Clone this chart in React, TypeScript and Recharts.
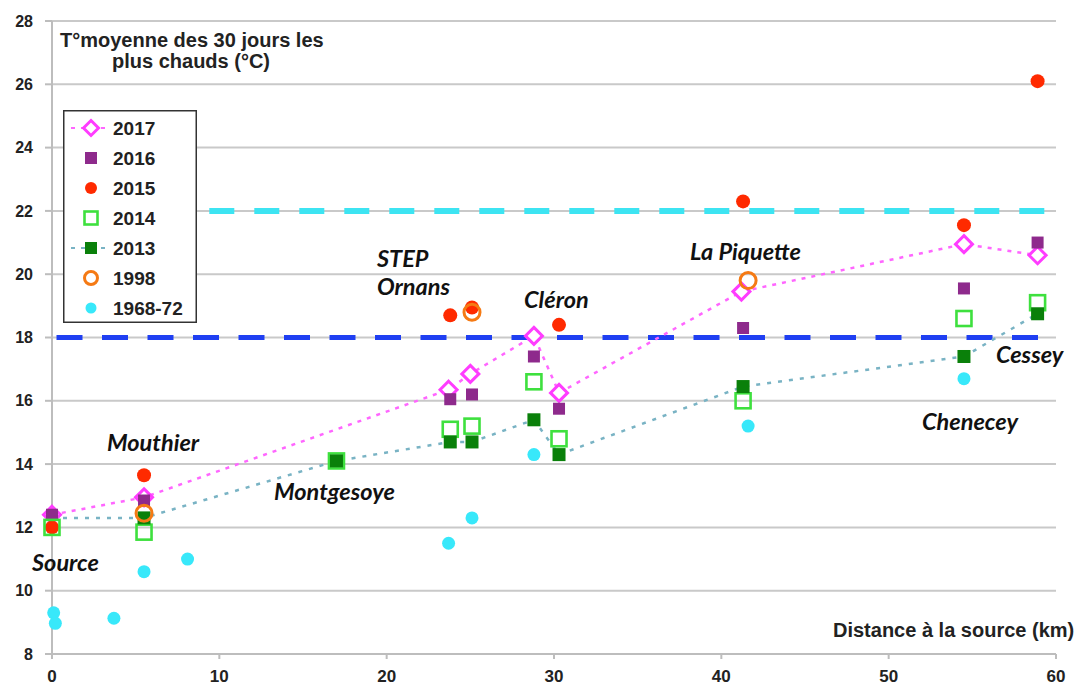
import {
  CartesianGrid,
  ReferenceLine,
  Scatter,
  ScatterChart,
  XAxis,
  YAxis,
} from 'recharts'

const xTicks = [0, 10, 20, 30, 40, 50, 60]
const yTicks = [8, 10, 12, 14, 16, 18, 20, 22, 24, 26, 28]

const km2017 = [0, 5.5, 23.7, 25.0, 28.8, 30.3, 41.2, 54.5, 58.9]
const t2017 = [12.4, 12.95, 16.35, 16.85, 18.05, 16.25, 19.45, 20.95, 20.6]

const km2016 = [0, 5.5, 23.8, 25.1, 28.8, 30.3, 41.3, 54.5, 58.9]
const t2016 = [12.4, 12.85, 16.05, 16.2, 17.4, 15.75, 18.3, 19.55, 21.0]

const km2015 = [0, 5.5, 23.8, 25.1, 30.3, 41.3, 54.5, 58.9]
const t2015 = [12.0, 13.65, 18.7, 18.95, 18.4, 22.3, 21.55, 26.1]

const km2014 = [0, 5.5, 17.0, 23.8, 25.1, 28.8, 30.3, 41.3, 54.5, 58.9]
const t2014 = [12.0, 11.85, 14.1, 15.1, 15.2, 16.6, 14.8, 16.0, 18.6, 19.1]

const km2013 = [5.5, 17.0, 23.8, 25.1, 28.8, 30.3, 41.3, 54.5, 58.9]
const t2013 = [12.3, 14.1, 14.7, 14.7, 15.4, 14.3, 16.45, 17.4, 18.75]
// the 2013 dotted line starts at the source
const start2013 = { x: 0, y: 12.3 }

const km1998 = [5.5, 25.1, 41.6]
const t1998 = [12.45, 18.8, 19.8]

const km1968 = [0.1, 0.2, 3.7, 5.5, 8.1, 23.7, 25.1, 28.8, 41.6, 54.5]
const t1968 = [9.3, 8.97, 9.13, 10.6, 11.0, 11.5, 12.3, 14.3, 15.2, 16.7]

const refLow = 18
const refHigh = 22
const refHighStart = 9.4

const zip = (xs: number[], ys: number[]) => xs.map((x, i) => ({ x, y: ys[i] }))

const data2017 = zip(km2017, t2017)
const data2016 = zip(km2016, t2016)
const data2015 = zip(km2015, t2015)
const data2014 = zip(km2014, t2014)
const data2013 = zip(km2013, t2013)
const line2013 = [start2013, ...data2013]
const data1998 = zip(km1998, t1998)
const data1968 = zip(km1968, t1968)

const C = {
  y2017: '#ff3cff',
  y2017line: '#ff66ff',
  y2016: '#8e2a8c',
  y2015: '#ff2a00',
  y2014: '#3ee03e',
  y2013: '#0a800a',
  y2013line: '#79b3c4',
  y1998: '#f57a14',
  y1968: '#38e8fa',
  blue: '#1f3ff2',
  cyan: '#3de4f2',
}

type P = { cx?: number; cy?: number }

const diamond = (color: string, r = 8.5) => (p: P) => {
  const { cx = 0, cy = 0 } = p
  return (
    <polygon
      points={`${cx},${cy - r} ${cx + r},${cy} ${cx},${cy + r} ${cx - r},${cy}`}
      fill="#fff"
      stroke={color}
      strokeWidth={3}
    />
  )
}
const square = (color: string, s = 12) => (p: P) => {
  const { cx = 0, cy = 0 } = p
  return <rect x={cx - s / 2} y={cy - s / 2} width={s} height={s} fill={color} />
}
const openSquare = (color: string, s = 14.5) => (p: P) => {
  const { cx = 0, cy = 0 } = p
  return <rect x={cx - s / 2} y={cy - s / 2} width={s} height={s} fill="#fff" fillOpacity={0} stroke={color} strokeWidth={2.6} />
}
const dot = (color: string, r = 7) => (p: P) => {
  const { cx = 0, cy = 0 } = p
  return <circle cx={cx} cy={cy} r={r} fill={color} />
}
const ring = (color: string, r = 7.5) => (p: P) => {
  const { cx = 0, cy = 0 } = p
  return <circle cx={cx} cy={cy} r={r} fill="none" stroke={color} strokeWidth={3} />
}
const nothing = () => <g />

const legendItems = [
  { label: '2017', shape: diamond(C.y2017, 7.5), line: C.y2017line },
  { label: '2016', shape: square(C.y2016, 12) },
  { label: '2015', shape: dot(C.y2015, 6) },
  { label: '2014', shape: openSquare(C.y2014, 13) },
  { label: '2013', shape: square(C.y2013, 12), line: C.y2013line },
  { label: '1998', shape: ring(C.y1998, 6.5) },
  { label: '1968-72', shape: dot(C.y1968, 5.5) },
]

function LegendBox({ x, y }: { x: number; y: number }) {
  return (
    <g transform={`translate(${x},${y})`}>
      <rect x={0.75} y={0.75} width={132.5} height={211.5} fill="#fff" stroke="#333" strokeWidth={1.5} />
      {legendItems.map((item, i) => {
        const cy = 18 + i * 30
        return (
          <g key={item.label}>
            {item.line && (
              <line x1={8} x2={48} y1={cy} y2={cy} stroke={item.line} strokeWidth={2} strokeDasharray="4 6" />
            )}
            {item.shape({ cx: 28, cy })}
            <text
              x={50}
              y={cy + 6.5}
              fontSize={19}
              fontWeight={700}
              fill="#222"
              fontFamily="'Liberation Sans', Arial, sans-serif"
            >
              {item.label}
            </text>
          </g>
        )
      })}
    </g>
  )
}

const placeLabels = [
  { text: 'Source', x: 32, y: 571 },
  { text: 'Mouthier', x: 107, y: 451 },
  { text: 'Montgesoye', x: 274, y: 500 },
  { text: 'STEP', x: 377, y: 267 },
  { text: 'Ornans', x: 377, y: 295 },
  { text: 'Cléron', x: 524, y: 308 },
  { text: 'La Piquette', x: 690, y: 260 },
  { text: 'Cessey', x: 996, y: 363 },
  { text: 'Chenecey', x: 922, y: 430 },
]

const tickStyle = {
  fontSize: 16,
  fontWeight: 700,
  fill: '#222',
  fontFamily: "'Liberation Sans', Arial, sans-serif",
}

export default function App() {
  return (
    <div
      style={{
        position: 'absolute',
        left: 0,
        top: 0,
        width: 1077,
        height: 688,
        background: '#fff',
        fontFamily: "'Liberation Sans', Arial, sans-serif",
      }}
    >
      <ScatterChart width={1077} height={688} margin={{ top: 21, right: 21, bottom: 0, left: 0 }}>
        <CartesianGrid vertical={false} stroke="#c9c9c9" strokeWidth={2} />
        <XAxis
          type="number"
          dataKey="x"
          domain={[0, 60]}
          ticks={xTicks}
          height={34}
          tickSize={5}
          tickMargin={11}
          stroke="#bdbdbd"
          strokeWidth={2}
          tick={{ ...tickStyle, fontSize: 17 }}
        />
        <YAxis
          type="number"
          dataKey="y"
          domain={[8, 28]}
          ticks={yTicks}
          width={52}
          tickSize={7}
          tickMargin={12}
          stroke="#bdbdbd"
          strokeWidth={2}
          tick={tickStyle}
        />
        <ReferenceLine
          y={refLow}
          stroke={C.blue}
          strokeWidth={5}
          strokeDasharray="26 19.5"
          strokeDashoffset={41}
        />
        <ReferenceLine
          segment={[
            { x: refHighStart, y: refHigh },
            { x: 60, y: refHigh },
          ]}
          stroke={C.cyan}
          strokeWidth={6}
          strokeDasharray="25 20"
        />
        <Scatter
          name="2013 line"
          data={line2013}
          shape={nothing}
          line={{ stroke: C.y2013line, strokeWidth: 2.5, strokeDasharray: '4 7' }}
          lineType="joint"
          isAnimationActive={false}
          legendType="none"
        />
        <Scatter
          name="2017"
          data={data2017}
          shape={diamond(C.y2017)}
          line={{ stroke: C.y2017line, strokeWidth: 2.5, strokeDasharray: '4 6' }}
          lineType="joint"
          isAnimationActive={false}
        />
        <Scatter name="2016" data={data2016} shape={square(C.y2016)} isAnimationActive={false} />
        <Scatter name="2015" data={data2015} shape={dot(C.y2015)} isAnimationActive={false} />
        <Scatter name="2014" data={data2014} shape={openSquare(C.y2014, 15)} isAnimationActive={false} />
        <Scatter name="2013" data={data2013} shape={square(C.y2013, 13)} isAnimationActive={false} />
        <Scatter name="1998" data={data1998} shape={ring(C.y1998, 8)} isAnimationActive={false} />
        <Scatter name="1968-72" data={data1968} shape={dot(C.y1968, 6.5)} isAnimationActive={false} />
      </ScatterChart>
      <svg
        width={1077}
        height={688}
        style={{ position: 'absolute', left: 0, top: 0, pointerEvents: 'none' }}
      >
        <LegendBox x={63} y={110} />
        <text x={60} y={47} fontSize={20} fontWeight={700} fill="#222">
          T°moyenne des 30 jours les
        </text>
        <text x={112} y={68} fontSize={20} fontWeight={700} fill="#222">
          plus chauds (°C)
        </text>
        <text x={833} y={637} fontSize={20} fontWeight={700} fill="#222">
          Distance à la source (km)
        </text>
        {placeLabels.map((l) => (
          <text
            key={l.text}
            x={l.x}
            y={l.y}
            fontSize={23.5}
            fontWeight={700}
            fontStyle="italic"
            fill="#111"
            fontFamily="Lato, 'Open Sans', sans-serif"
          >
            {l.text}
          </text>
        ))}
      </svg>
    </div>
  )
}
